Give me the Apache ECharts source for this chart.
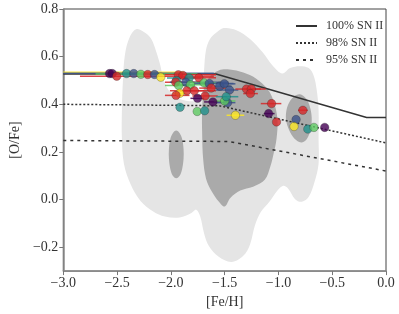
<!DOCTYPE html>
<html><head><meta charset="utf-8">
<script src="https://cdn.jsdelivr.net/npm/echarts@6/dist/echarts.min.js"></script>
<style>html,body{margin:0;padding:0;background:#fff}#c{width:399px;height:314px}</style>
</head><body><div id="c"></div>
<script>
// ---------- data ----------
const xTicks = [-3.0, -2.5, -2.0, -1.5, -1.0, -0.5, 0.0];
const yTicks = [-0.2, 0.0, 0.2, 0.4, 0.6, 0.8];

const modelNames = ['100% SN II', '98% SN II', '95% SN II'];
const fe100 = [-3.0, -1.58, -0.18, 0.0];
const o100  = [0.527, 0.527, 0.345, 0.345];
const fe98  = [-3.0, -1.55, 0.0];
const o98   = [0.400, 0.394, 0.238];
const fe95  = [-3.0, -1.46, 0.0];
const o95   = [0.248, 0.244, 0.120];

// stars
const starFe = [-2.570,-2.545,-2.503,-2.412,-2.345,-2.279,-2.215,-2.152,-2.094,-1.930,-1.888,-1.830,-1.739,-1.948,-1.955,-1.861,-1.927,-1.818,-1.691,-1.643,-1.852,-1.782,-1.625,-1.545,-1.503,-1.455,-1.682,-1.918,-1.952,-1.752,-1.609,-1.473,-1.500,-1.485,-1.915,-1.755,-1.686,-1.400,-1.297,-1.252,-1.261,-1.064,-1.091,-1.018,-0.773,-0.836,-0.855,-0.727,-0.670,-0.570];
const starO  = [0.529,0.529,0.518,0.529,0.529,0.526,0.525,0.525,0.514,0.524,0.521,0.510,0.511,0.500,0.493,0.493,0.479,0.482,0.490,0.4875,0.457,0.457,0.468,0.476,0.486,0.460,0.435,0.446,0.4375,0.425,0.410,0.407,0.414,0.432,0.3875,0.370,0.373,0.354,0.464,0.464,0.445,0.403,0.361,0.326,0.375,0.336,0.307,0.296,0.303,0.303];
const starCol = ['P','P','R','T','B','G','R','B','Y','R','R','T','R','T','R','B','G','G','G','B','R','R','R','B','B','B','R','Y','R','P','P','B','G','T','T','G','T','Y','R','R','R','R','P','R','R','B','Y','T','G','P'];
const errLo = [null,null,-2.845,null,null,null,null,null,null,-2.055,null,-2.036,-1.918,null,-2.055,-2.009,-2.055,-1.964,-1.800,-1.782,-2.009,-1.918,-1.736,-1.600,-1.555,-1.582,-1.800,-1.982,-2.055,-1.818,-1.691,-1.582,-1.600,-1.582,null,null,null,-1.482,-1.400,-1.327,-1.327,-1.164,-1.136,null,-0.818,null,null,null,null,null];
const errHi = [null,null,-1.600,null,null,null,null,null,null,-1.580,null,-1.718,-1.580,null,-1.736,-1.464,-1.782,-1.645,-1.582,-1.418,-1.691,-1.580,-1.491,-1.436,-1.400,-1.373,-1.564,-1.855,-1.827,-1.691,-1.527,-1.400,-1.400,-1.373,null,null,null,-1.318,-1.118,-1.164,-1.191,-0.973,-1.036,null,-0.727,null,null,null,null,null];

// long horizontal error bars at the top
const longBarY   = [0.535, 0.530, 0.527];
const longBarLo  = [-3.0, -3.0, -2.70];
const longBarHi  = [-1.88, -1.60, -1.75];
const longBarCol = ['Y', 'B', 'G'];

// density contours (vertex lists in data units)
const outerFe = [-2.318,-2.236,-2.182,-2.136,-2.100,-2.073,-2.027,-1.945,-1.827,-1.736,-1.700,-1.691,-1.673,-1.636,-1.582,-1.509,-1.391,-1.264,-1.145,-1.055,-0.964,-0.891,-0.800,-0.718,-0.673,-0.645,-0.627,-0.627,-0.627,-0.664,-0.718,-0.782,-0.845,-0.909,-0.955,-1.009,-1.082,-1.164,-1.218,-1.264,-1.327,-1.436,-1.555,-1.645,-1.691,-1.727,-1.764,-1.809,-1.918,-2.055,-2.164,-2.282,-2.373,-2.436,-2.455,-2.455,-2.445,-2.427,-2.382];
const outerO  = [0.716,0.699,0.674,0.621,0.567,0.513,0.463,0.429,0.413,0.421,0.471,0.546,0.629,0.674,0.699,0.720,0.711,0.674,0.617,0.563,0.529,0.552,0.560,0.552,0.521,0.463,0.379,0.254,0.150,0.075,0.012,-0.009,0.002,0.046,0.058,0.038,-0.008,-0.052,-0.108,-0.188,-0.236,-0.262,-0.240,-0.196,-0.142,-0.071,-0.042,-0.056,-0.075,-0.071,-0.050,-0.006,0.063,0.150,0.254,0.379,0.504,0.608,0.682];
const midFe = [-1.555,-1.455,-1.327,-1.209,-1.100,-1.045,-1.009,-1.018,-1.045,-1.073,-1.127,-1.236,-1.355,-1.445,-1.500,-1.555,-1.618,-1.673,-1.700,-1.709,-1.709,-1.691,-1.645];
const midO  = [0.542,0.546,0.533,0.508,0.463,0.413,0.338,0.254,0.192,0.142,0.083,0.054,0.038,0.008,-0.029,-0.008,0.033,0.088,0.171,0.275,0.379,0.463,0.513];
const leftFe = [-1.950,-1.918,-1.895,-1.882,-1.882,-1.895,-1.918,-1.950,-1.982,-2.005,-2.018,-2.018,-2.005,-1.982];
const leftO  = [0.290,0.279,0.254,0.2125,0.171,0.129,0.100,0.090,0.100,0.129,0.171,0.2125,0.254,0.279];
const rightFe = [-0.800,-0.745,-0.709,-0.691,-0.700,-0.736,-0.782,-0.836,-0.891,-0.927,-0.927,-0.900,-0.855];
const rightO  = [0.442,0.425,0.392,0.346,0.296,0.254,0.240,0.250,0.283,0.329,0.371,0.408,0.433];

// ---------- styles ----------
const palette = {P:'#440154', B:'#3b528b', T:'#21918c', G:'#5ec962', Y:'#fde725', R:'#d62728'};
const FONT = 'Liberation Serif';
const zip = (a, b) => a.map((v, i) => [v, b[i]]);
const fmt = v => { const s = Math.abs(v).toFixed(1); return v < -1e-9 ? '\u2212' + s : s; };

const polys = [
  {pts: zip(outerFe, outerO), fill: '#e5e5e5'},
  {pts: zip(midFe, midO), fill: '#aaaaaa'},
  {pts: zip(leftFe, leftO), fill: '#aaaaaa'},
  {pts: zip(rightFe, rightO), fill: '#aaaaaa'}
];

const bars = [];
longBarY.forEach((y, i) => bars.push({value: [longBarLo[i], y, longBarHi[i]], col: palette[longBarCol[i]]}));
starFe.forEach((x, i) => { if (errLo[i] !== null) bars.push({value: [errLo[i], starO[i], errHi[i]], col: palette[starCol[i]]}); });

const chart = echarts.init(document.getElementById('c'), null, {renderer: 'canvas'});
const lineSeries = (name, xs, ys, type) => ({
  name, type: 'line', data: zip(xs, ys), symbol: 'none', showSymbol: false, z: 3, silent: true,
  lineStyle: {color: '#333', width: 1.5, type}, itemStyle: {color: '#333'}
});

chart.setOption({
  animation: false,
  grid: {left: 56, right: 13, top: 9, bottom: 41, show: true, borderColor: '#444', borderWidth: 1},
  legend: {
    data: modelNames, orient: 'vertical', left: 295, top: 20, padding: 0,
    itemWidth: 21, itemHeight: 10, itemGap: 5,
    itemStyle: {opacity: 0},
    textStyle: {fontFamily: FONT, fontSize: 12, color: '#333', padding: [0, 0, 0, 4]}
  },
  xAxis: {
    type: 'value', min: -3, max: 0, interval: 0.5,
    name: '[Fe/H]', nameLocation: 'middle', nameGap: 13,
    nameTextStyle: {fontFamily: FONT, fontSize: 14, color: '#333'},
    axisLine: {show: true, onZero: false, lineStyle: {color: '#8a8a8a', width: 1.5}},
    axisTick: {show: true, length: 4, lineStyle: {color: '#777'}},
    axisLabel: {formatter: fmt, fontFamily: FONT, fontSize: 14, color: '#333', margin: 5},
    splitLine: {show: false}
  },
  yAxis: {
    type: 'value', min: -0.3, max: 0.8,
    name: '[O/Fe]', nameLocation: 'middle', nameGap: 35,
    nameTextStyle: {fontFamily: FONT, fontSize: 14, color: '#333'},
    axisLine: {show: true, onZero: false, lineStyle: {color: '#8a8a8a', width: 1.5}},
    axisTick: {show: true, length: 4, lineStyle: {color: '#777'}, customValues: yTicks},
    axisLabel: {customValues: yTicks, formatter: fmt, fontFamily: FONT, fontSize: 14, color: '#333', margin: 5},
    splitLine: {show: false}
  },
  series: [
    {
      type: 'custom', z: 1, silent: true, clip: true,
      data: polys.map((p, i) => [p.pts[0][0], p.pts[0][1], i]),
      renderItem: (params, api) => {
        const p = polys[params.dataIndex];
        return {type: 'polygon', shape: {points: p.pts.map(q => api.coord(q)), smooth: 0.35},
                style: {fill: p.fill, stroke: null}};
      }
    },
    lineSeries(modelNames[0], fe100, o100, 'solid'),
    lineSeries(modelNames[1], fe98, o98, [2, 2]),
    lineSeries(modelNames[2], fe95, o95, [3, 4]),
    {
      type: 'custom', z: 4, silent: true, clip: true,
      data: bars.map(b => b.value),
      renderItem: (params, api) => {
        const a = api.coord([api.value(0), api.value(1)]);
        const b = api.coord([api.value(2), api.value(1)]);
        return {type: 'line', shape: {x1: a[0], y1: a[1], x2: b[0], y2: b[1]},
                style: {stroke: bars[params.dataIndex].col, lineWidth: 1.5, opacity: 0.85}};
      }
    },
    {
      type: 'scatter', z: 5, silent: true, symbolSize: 8.5,
      data: starFe.map((x, i) => ({value: [x, starO[i]],
        itemStyle: {color: palette[starCol[i]], borderColor: 'rgba(40,40,40,0.6)', borderWidth: 0.6}}))
    }
  ]
});
</script></body></html>
